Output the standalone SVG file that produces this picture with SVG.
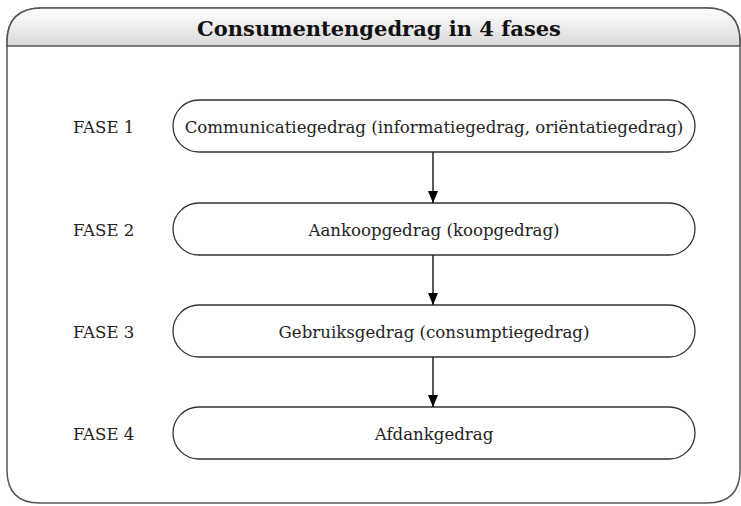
<svg xmlns="http://www.w3.org/2000/svg" width="741" height="506" viewBox="0 0 741 506">
<defs>
<linearGradient id="hg" x1="0" y1="0" x2="0" y2="1">
<stop offset="0" stop-color="#ffffff"/>
<stop offset="1" stop-color="#d9d9d9"/>
</linearGradient>
<marker id="ah" viewBox="0 0 12 10" refX="12" refY="5" markerWidth="12" markerHeight="10" markerUnits="userSpaceOnUse" orient="auto">
<path d="M0,0 L12,5 L0,10 z" fill="#000"/>
</marker>
</defs>
<style>
.frame{fill:#fff;stroke:#555;stroke-width:1.5}
.pill{fill:#fff;stroke:#333;stroke-width:1.3}
.lbl{font-family:"DejaVu Serif","Liberation Serif",serif;font-size:16.6px;fill:#222;text-anchor:middle;dominant-baseline:central}
.fase{font-family:"DejaVu Serif","Liberation Serif",serif;font-size:16.6px;fill:#222;text-anchor:start;dominant-baseline:central}
.title{font-family:"DejaVu Serif","Liberation Serif",serif;font-size:21px;font-weight:bold;fill:#111;text-anchor:middle;dominant-baseline:central}
.conn{stroke:#222;stroke-width:1.5;fill:none}
</style>
<g id="frame">
<path class="frame" d="M7,46 L7,42 Q7,8 42,8 L707,8 Q740,8 740,42 L740,470 Q740,503 707,503 L40,503 Q7,503 7,470 Z"/>
<path d="M7,46 L7,42 Q7,8 42,8 L707,8 Q740,8 740,42 L740,46 Z" fill="url(#hg)" stroke="#555" stroke-width="1.5"/>
<text class="title" x="379" y="28">Consumentengedrag in 4 fases</text>
</g>
<g id="node1">
<text class="fase" x="73" y="127">FASE 1</text>
<rect class="pill" x="173" y="100" width="522" height="52" rx="26" ry="26"/>
<text class="lbl" x="434" y="127">Communicatiegedrag (informatiegedrag, oriëntatiegedrag)</text>
</g>
<g id="node2">
<text class="fase" x="73" y="230">FASE 2</text>
<rect class="pill" x="173" y="203" width="522" height="52" rx="26" ry="26"/>
<text class="lbl" x="434" y="230">Aankoopgedrag (koopgedrag)</text>
</g>
<g id="node3">
<text class="fase" x="73" y="332">FASE 3</text>
<rect class="pill" x="173" y="305" width="522" height="52" rx="26" ry="26"/>
<text class="lbl" x="434" y="332">Gebruiksgedrag (consumptiegedrag)</text>
</g>
<g id="node4">
<text class="fase" x="73" y="434">FASE 4</text>
<rect class="pill" x="173" y="407" width="522" height="52" rx="26" ry="26"/>
<text class="lbl" x="434" y="434">Afdankgedrag</text>
</g>
<g id="connectors">
<line class="conn" x1="433" y1="152" x2="433" y2="203" marker-end="url(#ah)"/>
<line class="conn" x1="433" y1="255" x2="433" y2="305" marker-end="url(#ah)"/>
<line class="conn" x1="433" y1="357" x2="433" y2="407" marker-end="url(#ah)"/>
</g>
</svg>
